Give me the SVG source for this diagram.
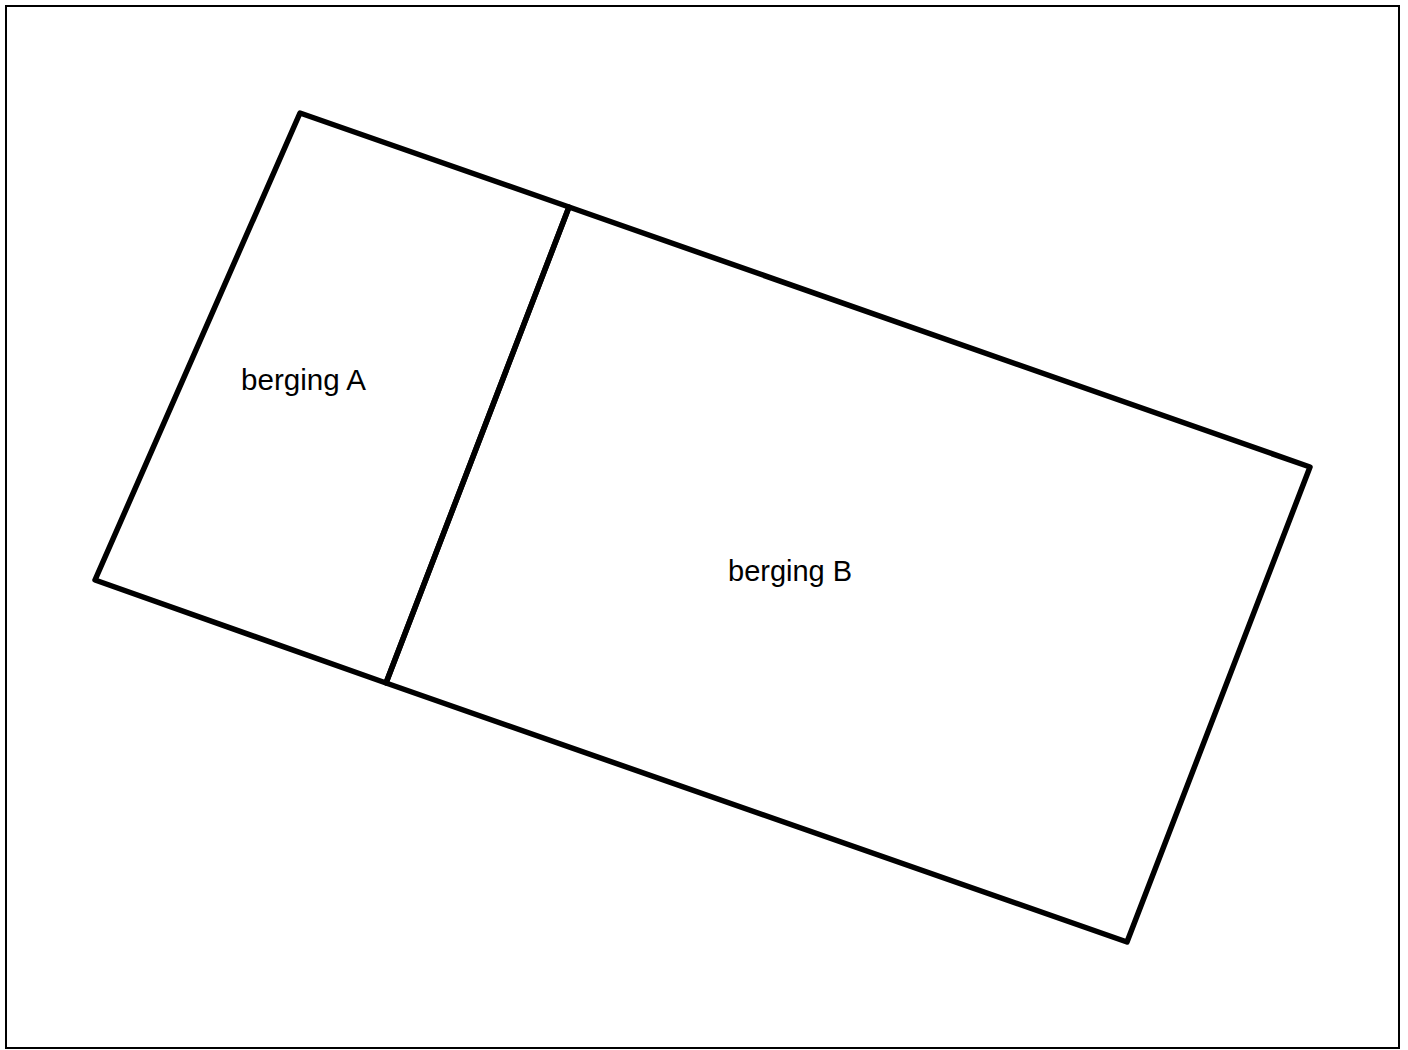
<svg xmlns="http://www.w3.org/2000/svg" width="1408" height="1050" viewBox="0 0 1408 1050">
<style>
.wall{fill:none;stroke:#000;stroke-width:5.5;stroke-linejoin:round;stroke-linecap:round}
.lbl{font-family:"Liberation Sans",Arial,sans-serif;font-size:21.5px;fill:#000}
</style>
<rect x="0" y="0" width="1408" height="1050" fill="#fff"/>
<rect x="6" y="6" width="1393" height="1042" fill="none" stroke="#000" stroke-width="2"/>
<g id="berging-A">
<polygon class="wall" points="300,113 569,207 386,683 95,580"/>
<text class="lbl" x="241" y="390" textLength="125" lengthAdjust="spacingAndGlyphs" style="font-size:29px">berging A</text>
</g>
<g id="berging-B">
<polygon class="wall" points="569,207 1310,467 1127,942 386,683"/>
<text class="lbl" x="728" y="581" style="font-size:29px">berging B</text>
</g>
</svg>
